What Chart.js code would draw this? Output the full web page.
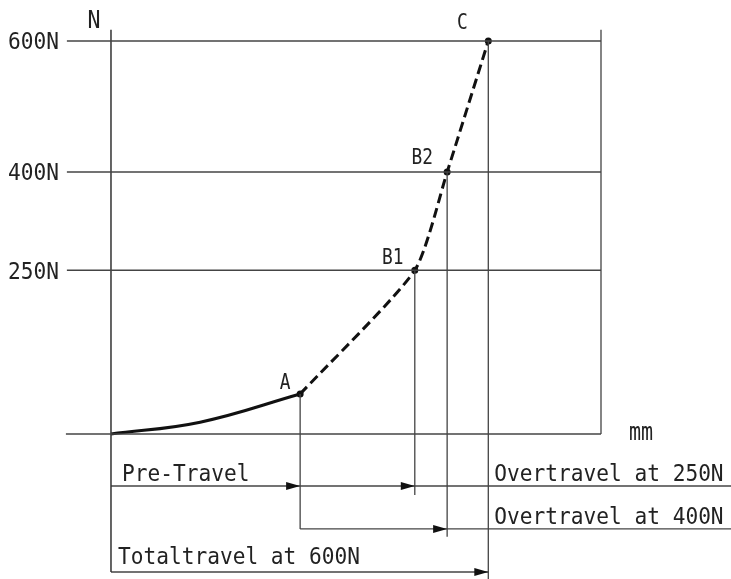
<!DOCTYPE html>
<html>
<head>
<meta charset="utf-8">
<script src="https://cdn.jsdelivr.net/npm/chart.js@4.4.1/dist/chart.umd.min.js"></script>
<style>
  html, body { margin: 0; padding: 0; background: #fff; }
  #wrap { width: 731px; height: 579px; }
</style>
</head>
<body>
<div id="wrap"><canvas id="chart" width="731" height="579"></canvas></div>
<script>
// travel (mm, arbitrary units) vs. force (N)
const curveX = [0, 1.82, 3.86];          // pre-travel, solid part
const curveY = [0, 18, 61];
const keyLabels = ['A', 'B1', 'B2', 'C'];
const keyX = [3.86, 6.20, 6.86, 7.70];
const keyY = [61, 250, 400, 600];
const forceTicks = [250, 400, 600];
const tickLabels = ['250N', '400N', '600N'];
const dimTexts = ['Pre-Travel', 'Overtravel at 250N', 'Overtravel at 400N', 'Totaltravel at 600N'];

// layout in data units
const X_MIN = -2.265, X_MAX = 12.653, Y_MIN = -221.4, Y_MAX = 662.6;
const X_GRID_L = -0.9, X_FRAME_R = 10, Y_TOP = 617;
const LVL_PRE = -79.4, LVL_OT400 = -145, LVL_TOTAL = -210.7;
const dropEnds = [LVL_OT400, -93, -157, Y_MIN];

const INK = '#222';
const GRID = '#444';

function seg(x1, y1, x2, y2, extra) {
  return Object.assign({
    data: [{ x: x1, y: y1 }, { x: x2, y: y2 }],
    borderColor: GRID, borderWidth: 1.3, pointRadius: 0, showLine: true, fill: false
  }, extra || {});
}

const datasets = [];
forceTicks.forEach(v => datasets.push(seg(X_GRID_L, v, X_FRAME_R, v)));
datasets.push(seg(-0.92, 0, X_FRAME_R, 0));                 // x axis
datasets.push(seg(0, Y_TOP, 0, LVL_TOTAL, { borderColor: '#333', borderWidth: 1.5 })); // y axis
datasets.push(seg(X_FRAME_R, Y_TOP, X_FRAME_R, 0));          // right frame
keyX.forEach((x, i) => datasets.push(seg(x, keyY[i], x, dropEnds[i])));
// dimension lines
datasets.push(seg(0, LVL_PRE, X_MAX, LVL_PRE));
datasets.push(seg(keyX[0], LVL_OT400, X_MAX, LVL_OT400));
datasets.push(seg(0, LVL_TOTAL, keyX[3], LVL_TOTAL));

datasets.push({
  data: curveX.map((x, i) => ({ x: x, y: curveY[i] })),
  borderColor: '#111', borderWidth: 3, pointRadius: 0, showLine: true,
  tension: 0.4, fill: false
});
datasets.push({
  data: keyX.map((x, i) => ({ x: x, y: keyY[i] })),
  borderColor: '#111', borderWidth: 3, borderDash: [10, 5], showLine: true,
  tension: 0.2, fill: false,
  pointRadius: 3.5, pointBackgroundColor: '#111', pointBorderColor: '#111', pointBorderWidth: 0
});

function drawText(ctx, text, x, yc, align, size, sx) {
  ctx.save();
  ctx.font = size + 'px "DejaVu Sans Mono", monospace';
  ctx.fillStyle = INK;
  ctx.textAlign = align;
  ctx.textBaseline = 'alphabetic';
  ctx.translate(x, yc + size * 0.365);
  ctx.scale(sx, 1);
  ctx.fillText(text, 0, 0);
  ctx.restore();
}

function arrow(ctx, px, py) {
  ctx.beginPath();
  ctx.moveTo(px, py);
  ctx.lineTo(px - 14, py - 4);
  ctx.lineTo(px - 14, py + 4);
  ctx.closePath();
  ctx.fill();
}

const annotations = {
  id: 'annotations',
  afterDatasetsDraw(chart) {
    const ctx = chart.ctx;
    const xs = chart.scales.x, ys = chart.scales.y;
    const X = v => xs.getPixelForValue(v), Y = v => ys.getPixelForValue(v);

    ctx.save();
    ctx.fillStyle = '#111';
    arrow(ctx, X(keyX[0]), Y(LVL_PRE));
    arrow(ctx, X(keyX[1]), Y(LVL_PRE));
    arrow(ctx, X(keyX[2]), Y(LVL_OT400));
    arrow(ctx, X(keyX[3]), Y(LVL_TOTAL));
    ctx.restore();

    forceTicks.forEach((v, i) => drawText(ctx, tickLabels[i], X(X_GRID_L) - 8, Y(v), 'right', 23, 0.92));
    drawText(ctx, 'N', X(0) - 17, 19, 'center', 24, 0.9);
    // "mm" sits on its baseline, draw lowercase a little lower
    ctx.save();
    ctx.font = '25px "DejaVu Sans Mono", monospace';
    ctx.fillStyle = INK;
    ctx.textAlign = 'center';
    ctx.translate(X(X_FRAME_R) + 40, Y(0) + 6);
    ctx.scale(0.8, 1);
    ctx.fillText('mm', 0, 0);
    ctx.restore();

    const off = [[-15, -13], [-22, -14], [-25, -16], [-26, -20]];
    keyLabels.forEach((t, i) => drawText(ctx, t, X(keyX[i]) + off[i][0], Y(keyY[i]) + off[i][1], 'center', 21, 0.85));

    drawText(ctx, dimTexts[0], X(0) + 11, Y(LVL_PRE) - 13, 'left', 23, 0.92);
    drawText(ctx, dimTexts[1], X(keyX[3]) + 6, Y(LVL_PRE) - 13, 'left', 23, 0.92);
    drawText(ctx, dimTexts[2], X(keyX[3]) + 6, Y(LVL_OT400) - 13, 'left', 23, 0.92);
    drawText(ctx, dimTexts[3], X(0) + 7, Y(LVL_TOTAL) - 16, 'left', 23, 0.92);
  }
};

new Chart(document.getElementById('chart'), {
  type: 'scatter',
  data: { datasets: datasets },
  options: {
    responsive: false,
    animation: false,
    layout: { padding: 0, autoPadding: false },
    plugins: { legend: { display: false }, tooltip: { enabled: false } },
    scales: {
      x: { type: 'linear', display: false, min: X_MIN, max: X_MAX },
      y: { type: 'linear', display: false, min: Y_MIN, max: Y_MAX }
    }
  },
  plugins: [annotations]
});
</script>
</body>
</html>
